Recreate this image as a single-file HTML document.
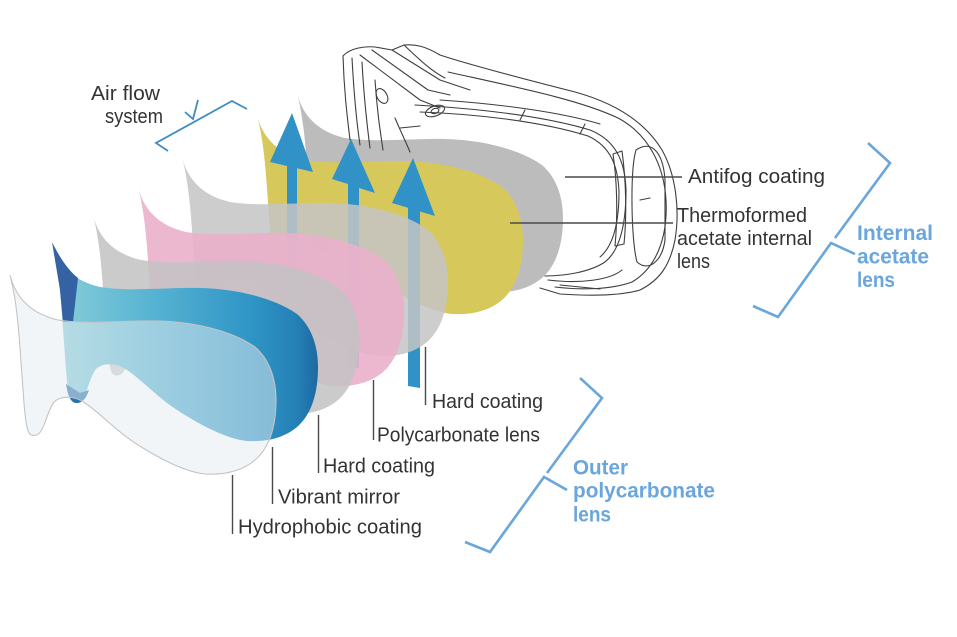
<!DOCTYPE html>
<html><head><meta charset="utf-8"><style>
html,body{margin:0;padding:0;background:#fff;}
svg{display:block;}
text{font-family:"Liberation Sans",Arial,sans-serif;}
</style></head><body>
<svg width="957" height="637" viewBox="0 0 957 637" xmlns="http://www.w3.org/2000/svg">
<defs>
<path id="lens" d="M0,0 C5,20 18,38 48,45 C80,50 115,45 148,46 C190,47 225,58 245,72 C260,85 266,105 266,125 C266,150 260,172 245,185 C232,196 215,200 195,199 C175,197 150,184 125,168 C105,155 90,138 75,128 C65,121 52,120 44,127 C38,135 36,148 31,156 C28,161 22,162 19,158 C16,152 15,140 14,128 L9,60 C7,35 4,15 0,0 Z"/>
<linearGradient id="bg" x1="0" y1="0" x2="1" y2="0">
<stop offset="0" stop-color="#8acfd8"/>
<stop offset="0.35" stop-color="#5ab5d3"/>
<stop offset="0.75" stop-color="#2f95c6"/>
<stop offset="0.92" stop-color="#2580b6"/>
<stop offset="1" stop-color="#1c6aa2"/>
</linearGradient>
</defs>
<rect width="957" height="637" fill="#fff"/>

<!-- antifog gray -->
<use href="#lens" x="297" y="93" fill="#bcbcbc"/>

<!-- frame sketch -->
<g fill="none" stroke="#3e3e3e" stroke-width="1.1" stroke-linejoin="round" stroke-linecap="round">
<path d="M343,56 C350,48 365,46 375,47 L392,50 L404,45 C415,44 425,46 440,55 C470,65 520,78 575,92 C615,103 645,122 662,150 C676,175 680,210 675,240 C670,265 660,280 640,290 C620,296 590,296 560,294 L540,288"/>
<path d="M448,72 C520,88 580,100 618,118 C648,134 664,165 666,200 C668,238 656,268 632,282 C610,290 580,290 555,287"/>
<path d="M415,105 C470,108 540,115 590,130 C615,140 625,160 626,190 C626,225 620,250 605,262 C590,272 565,276 545,276"/>
<path d="M420,112 C475,114 540,121 588,136 C610,146 618,165 619,192 C619,224 613,246 600,257"/>
<path d="M440,100 C500,104 560,112 600,124"/>
<path d="M343,56 C344,90 347,115 350,140"/>
<path d="M352,58 C354,95 356,118 360,145"/>
<path d="M362,62 C364,100 367,125 370,148"/>
<path d="M375,80 C377,110 380,130 383,150"/>
<path d="M360,55 L420,100 L440,108"/>
<path d="M372,50 L428,90 L450,95"/>
<path d="M392,50 L440,80 L470,90"/>
<path d="M404,45 C420,60 430,70 445,78"/>
<path d="M395,118 C400,130 405,140 410,152"/>
<path d="M400,128 L420,126"/>
<ellipse cx="382" cy="96" rx="5" ry="8" transform="rotate(-30 382 96)"/>
<ellipse cx="435" cy="111" rx="10" ry="5" transform="rotate(-20 435 111)"/>
<ellipse cx="435" cy="111" rx="4" ry="2.5" transform="rotate(-20 435 111)"/>
<path d="M613,154 L622,151 C626,180 627,215 624,244 L615,246 C618,215 617,180 613,154 Z"/>
<path d="M636,150 C650,140 663,150 665,180 L665,240 C662,262 648,272 637,262 C631,240 630,170 636,150 Z"/>
<path d="M548,280 C580,284 610,280 622,270"/>
<path d="M560,285 L600,289"/>
<path d="M520,120 L525,110 M580,134 L585,124 M640,200 L650,198"/>
</g>

<!-- yellow -->
<use href="#lens" x="257" y="115" fill="#d7c85c"/>

<!-- arrows -->
<g fill="#3092c6">
<polygon points="292,113 313,172 297,168.3 297,345 287,345 287,166 270,162"/>
<polygon points="351,139 375,193 359,188 359,368 348,368 348,184 332,179"/>
<polygon points="413,158 435,216 420,211.5 420,388 408,386 408,207.8 392,203"/>
</g>

<!-- back gray (hard coating) -->
<use href="#lens" x="182" y="157" fill="#c5c5c5" fill-opacity="0.86"/>
<!-- pink (polycarbonate) -->
<use href="#lens" x="138" y="187" fill="#eab0cb" fill-opacity="0.9"/>
<!-- front gray (hard coating) -->
<use href="#lens" x="93" y="215" fill="#c3c3c3" fill-opacity="0.86"/>
<!-- blue (vibrant mirror) -->
<use href="#lens" x="52" y="242" fill="url(#bg)"/>
<path d="M52,242 C60,258 68,270 78,278 L73,322 L63,322 L60,290 Z" fill="#3462a3"/>
<path d="M66,384 C68,398 72,404 78,403 C84,402 87,396 89,390 L80,393 Z" fill="#2b72aa"/>
<!-- white (hydrophobic) -->
<use href="#lens" x="10" y="275" fill="#e6ecef" fill-opacity="0.5" stroke="#c4c4c4" stroke-width="1.1"/>

<!-- leader lines -->
<g stroke="#4a4a4a" stroke-width="1.4">
<line x1="565" y1="177" x2="682" y2="177"/>
<line x1="510" y1="223" x2="673" y2="223"/>
<line x1="425.5" y1="347" x2="425.5" y2="405"/>
<line x1="373.5" y1="380" x2="373.5" y2="440"/>
<line x1="318.5" y1="415" x2="318.5" y2="473"/>
<line x1="272.5" y1="447" x2="272.5" y2="504"/>
<line x1="232.5" y1="475" x2="232.5" y2="534"/>
</g>

<!-- air flow bracket -->
<g fill="none" stroke="#3d8cc2" stroke-width="1.8" stroke-linejoin="miter">
<polyline points="168,151 156,143 232,101 247,109"/>
<polyline points="185,112 193,119 198,100"/>
</g>

<!-- blue brackets -->
<g fill="none" stroke="#6aa6dc" stroke-width="2.6" stroke-linejoin="miter">
<polyline points="868,143 890,163 835,238"/>
<polyline points="855,254 831,243 778,317 753,306"/>
<polyline points="580,378 602,398 547,473"/>
<polyline points="567,490 544,477 490,552 465,542"/>
</g>

<!-- labels -->
<g fill="#333" font-size="20">
<text x="91" y="100" textLength="69" lengthAdjust="spacingAndGlyphs">Air flow</text>
<text x="105" y="123" textLength="58" lengthAdjust="spacingAndGlyphs">system</text>
<text x="688" y="183" textLength="137" lengthAdjust="spacingAndGlyphs">Antifog coating</text>
<text x="677" y="222" textLength="130" lengthAdjust="spacingAndGlyphs">Thermoformed</text>
<text x="677" y="245" textLength="135" lengthAdjust="spacingAndGlyphs">acetate internal</text>
<text x="677" y="268" textLength="33" lengthAdjust="spacingAndGlyphs">lens</text>
<text x="432" y="408" textLength="111" lengthAdjust="spacingAndGlyphs">Hard coating</text>
<text x="377" y="441.5" textLength="163" lengthAdjust="spacingAndGlyphs">Polycarbonate lens</text>
<text x="323" y="472.5" textLength="112" lengthAdjust="spacingAndGlyphs">Hard coating</text>
<text x="278" y="503.5" textLength="122" lengthAdjust="spacingAndGlyphs">Vibrant mirror</text>
<text x="238" y="533.5" textLength="184" lengthAdjust="spacingAndGlyphs">Hydrophobic coating</text>
</g>
<g fill="#6aa6dc" font-size="21" font-weight="bold">
<text x="857" y="240" textLength="76" lengthAdjust="spacingAndGlyphs">Internal</text>
<text x="857" y="263.5" textLength="72" lengthAdjust="spacingAndGlyphs">acetate</text>
<text x="857" y="287" textLength="38" lengthAdjust="spacingAndGlyphs">lens</text>
<text x="573" y="474.5" textLength="55" lengthAdjust="spacingAndGlyphs">Outer</text>
<text x="573" y="497.5" textLength="142" lengthAdjust="spacingAndGlyphs">polycarbonate</text>
<text x="573" y="521.5" textLength="38" lengthAdjust="spacingAndGlyphs">lens</text>
</g>
</svg>
</body></html>
